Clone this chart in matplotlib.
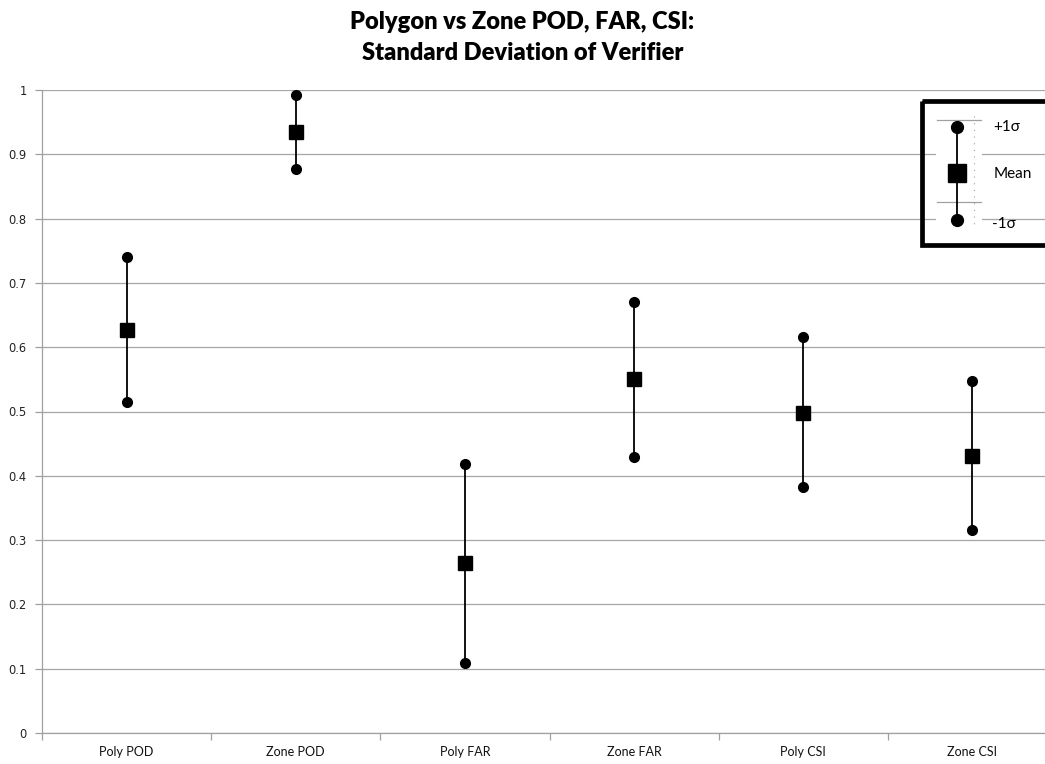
#!/usr/bin/env python3
# Polygon vs Zone POD/FAR/CSI: media +/- 1 desviacion estandar

import matplotlib
matplotlib.use("Agg")
import matplotlib.pyplot as plt
from matplotlib.patches import Rectangle
import numpy as np

categories = ["Poly POD", "Zone POD", "Poly FAR", "Zone FAR", "Poly CSI", "Zone CSI"]
mean_vals = [0.627, 0.934, 0.264, 0.550, 0.498, 0.431]
plus_1sd = [0.741, 0.992, 0.418, 0.671, 0.616, 0.547]
minus_1sd = [0.515, 0.877, 0.109, 0.429, 0.382, 0.316]
y_ticks = [0, 0.1, 0.2, 0.3, 0.4, 0.5, 0.6, 0.7, 0.8, 0.9, 1]
y_tick_labels = ["0", "0.1", "0.2", "0.3", "0.4", "0.5", "0.6", "0.7", "0.8", "0.9", "1"]

W, H = 1045, 764
fig = plt.figure(figsize=(W / 100, H / 100), dpi=100)
ax = fig.add_axes([42 / W, 31 / H, 1015 / W, 643 / H])

x = np.arange(len(categories))

# barras de error: linea entre -1s y +1s
ax.vlines(x, minus_1sd, plus_1sd, color="black", linewidth=1.3, zorder=3)
ax.plot(x, plus_1sd, "o", color="black", markersize=7, linestyle="none", zorder=4)
ax.plot(x, minus_1sd, "o", color="black", markersize=7, linestyle="none", zorder=4)
ax.plot(x, mean_vals, "s", color="black", markersize=10.5, linestyle="none", zorder=5)

ax.set_xlim(-0.5, len(categories) - 0.5)
ax.set_ylim(0, 1)
ax.set_yticks(y_ticks)
ax.set_yticklabels(y_tick_labels, fontsize=8.3, family="DejaVu Sans", color="#222222")
ax.set_xticks(x)
ax.set_xticklabels(categories, fontsize=9, family=["Lato", "DejaVu Sans"], color="#111111")
ax.set_xticks(np.arange(len(categories) + 1) - 0.5, minor=True)
ax.tick_params(axis="x", which="major", length=0, pad=9)
ax.tick_params(axis="x", which="minor", length=5, color="#a0a0a0", width=0.9)
ax.tick_params(axis="y", length=5, color="#a0a0a0", width=0.9, pad=6)

ax.grid(axis="y", color="#a6a6a6", linewidth=0.9)
ax.set_axisbelow(True)
for side in ["top", "right"]:
    ax.spines[side].set_visible(False)
for side in ["left", "bottom"]:
    ax.spines[side].set_color("#a0a0a0")
    ax.spines[side].set_linewidth(0.9)

fig.text(0.5, 1 - 22 / H, "Polygon vs Zone POD, FAR, CSI:", ha="center", va="center",
         fontsize=17, fontweight="heavy", family=["Lato", "DejaVu Sans"])
fig.text(0.5, 1 - 53 / H, "Standard Deviation of Verifier", ha="center", va="center",
         fontsize=17, fontweight="heavy", family=["Lato", "DejaVu Sans"])

# leyenda dibujada a mano (imagen pegada en el original), en pixeles
lax = fig.add_axes([0, 0, 1, 1], zorder=10)
lax.set_xlim(0, W)
lax.set_ylim(H, 0)
lax.axis("off")
lax.add_patch(Rectangle((936, 110), 46, 122, facecolor="white", edgecolor="none"))
lax.add_patch(Rectangle((922, 101), 140, 144, facecolor="none", edgecolor="black", linewidth=3.4))
lax.plot([937, 981], [119.5, 119.5], color="#a0a0a0", linewidth=0.9)
lax.plot([937, 981], [201.5, 201.5], color="#a0a0a0", linewidth=0.9)
lax.plot([973.5, 973.5], [116, 224], color="#a0a0a0", linewidth=0.8, linestyle=(0, (1, 5)))
lax.plot([957, 957], [127, 220], color="black", linewidth=1.3)
lax.plot([957, 957], [127, 220], "o", color="black", markersize=8.5)
lax.plot([957], [173], "s", color="black", markersize=12.5)
lax.text(993, 127, "+1σ", fontsize=11, va="center", ha="left", family=["Lato", "DejaVu Sans"])
lax.text(994, 174, "Mean", fontsize=11, va="center", ha="left", family=["Lato", "DejaVu Sans"])
lax.text(992, 224, "-1σ", fontsize=11, va="center", ha="left", family=["Lato", "DejaVu Sans"])

fig.savefig("out.png", dpi=100)
